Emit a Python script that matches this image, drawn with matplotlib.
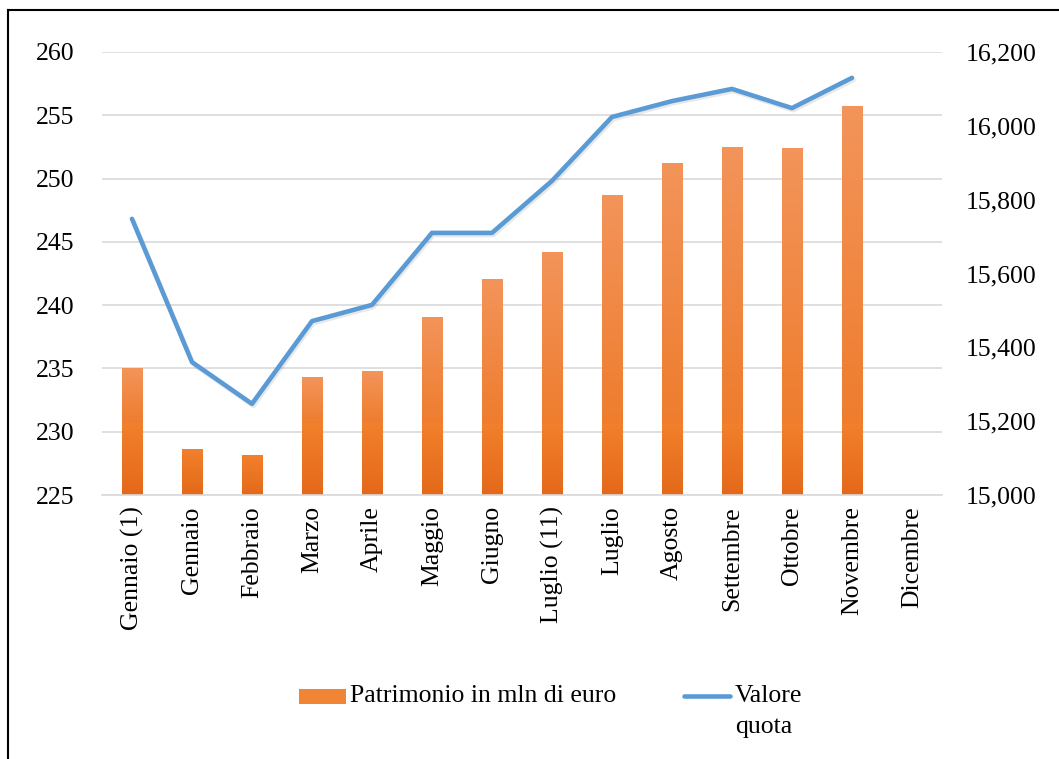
import numpy as np
import matplotlib
matplotlib.use("Agg")
import matplotlib.pyplot as plt
import matplotlib.patheffects as pe
from matplotlib.colors import LinearSegmentedColormap
from matplotlib.lines import Line2D
from matplotlib.patches import Rectangle
from matplotlib.ticker import FuncFormatter

mesi = ["Gennaio (1)", "Gennaio", "Febbraio", "Marzo", "Aprile", "Maggio",
        "Giugno", "Luglio (11)", "Luglio", "Agosto", "Settembre", "Ottobre",
        "Novembre", "Dicembre"]
patrimonio = [235.0, 228.6, 228.1, 234.3, 234.8, 239.0, 242.0, 244.2,
              248.7, 251.2, 252.5, 252.4, 255.7]
quota = [15748, 15360, 15247, 15471, 15515, 15710, 15710, 15851,
         16024, 16067, 16100, 16048, 16130]

plt.rcParams['font.family'] = ['Liberation Serif', 'DejaVu Serif']
plt.rcParams['font.size'] = 18.5

fig = plt.figure(figsize=(10.59, 7.59), dpi=100)
ax = fig.add_axes([0.0963, 0.3478, 0.7932, 0.5837])

x = np.arange(len(mesi))
base = 225
split = 230.7
bars = ax.bar(x[:len(patrimonio)], np.array(patrimonio) - base, bottom=base,
              width=0.34, color='none', zorder=2)

# gradient fill, Excel style (lower block a bit darker)
top_cmap = LinearSegmentedColormap.from_list('top', ['#EE7D2E', '#F3945A'])
low_cmap = LinearSegmentedColormap.from_list('low', ['#E4691A', '#F2802C'])
grad = np.linspace(0, 1, 64).reshape(-1, 1)
for r in bars:
    x0, w = r.get_x(), r.get_width()
    y0, y1 = r.get_y(), r.get_y() + r.get_height()
    lo_top = min(y1, split)
    ax.imshow(grad, extent=(x0, x0 + w, y0, lo_top), origin='lower',
              aspect='auto', cmap=low_cmap, zorder=2)
    if y1 > split:
        ax.imshow(grad, extent=(x0, x0 + w, split, y1), origin='lower',
                  aspect='auto', cmap=top_cmap, zorder=2)

ax.set_xlim(-0.5, len(mesi) - 0.5)
ax.set_ylim(225, 260)
ax.set_yticks(np.arange(225, 261, 5))
ax.set_xticks(x)
ax.set_xticklabels(mesi, rotation=90)
ax.yaxis.grid(True, color='#D9D9D9', lw=1.2)
ax.set_axisbelow(True)
for s in ['top', 'right', 'left']:
    ax.spines[s].set_visible(False)
ax.spines['bottom'].set_color('#D9D9D9')
ax.spines['bottom'].set_linewidth(1.2)
ax.tick_params(length=0, pad=20)
ax.tick_params(axis='x', pad=8)

ax2 = ax.twinx()
ax2.plot(x[:len(quota)], quota, color='#5B9BD5', lw=3.3, solid_capstyle='round',
         path_effects=[pe.SimpleLineShadow(offset=(1, -1.5), shadow_color='gray', alpha=0.18),
                       pe.Normal()])
ax2.set_ylim(15000, 16200)
ax2.set_yticks(np.arange(15000, 16201, 200))
ax2.yaxis.set_major_formatter(FuncFormatter(lambda v, p: f"{v:,.0f}"))
for s in ax2.spines.values():
    s.set_visible(False)
ax2.tick_params(length=0, pad=17)

# legend drawn by hand so the line sits on the first row of "Valore quota"
W, H = 1059, 759
ly = 1 - 696 / H
fig.add_artist(Rectangle((299 / W, 1 - 704 / H), 47 / W, 15 / H, transform=fig.transFigure,
                         facecolor='#EF8535', edgecolor='none'))
fig.text(350 / W, ly, "Patrimonio in mln di euro", va='center', ha='left')
fig.add_artist(Line2D([684 / W, 730 / W], [ly, ly], color='#5B9BD5', lw=3.3,
                      solid_capstyle='round', transform=fig.transFigure))
fig.text(735 / W, ly, "Valore", va='center', ha='left')
fig.text(735 / W, 1 - 727 / H, "quota", va='center', ha='left')

fig.add_artist(Line2D([8 / W, 8 / W], [0, 1 - 10 / H], color='black', lw=1.5,
                      transform=fig.transFigure))
fig.add_artist(Line2D([8 / W, 1], [1 - 10 / H, 1 - 10 / H], color='black', lw=1.5,
                      transform=fig.transFigure))

fig.savefig("out.png", dpi=100)
